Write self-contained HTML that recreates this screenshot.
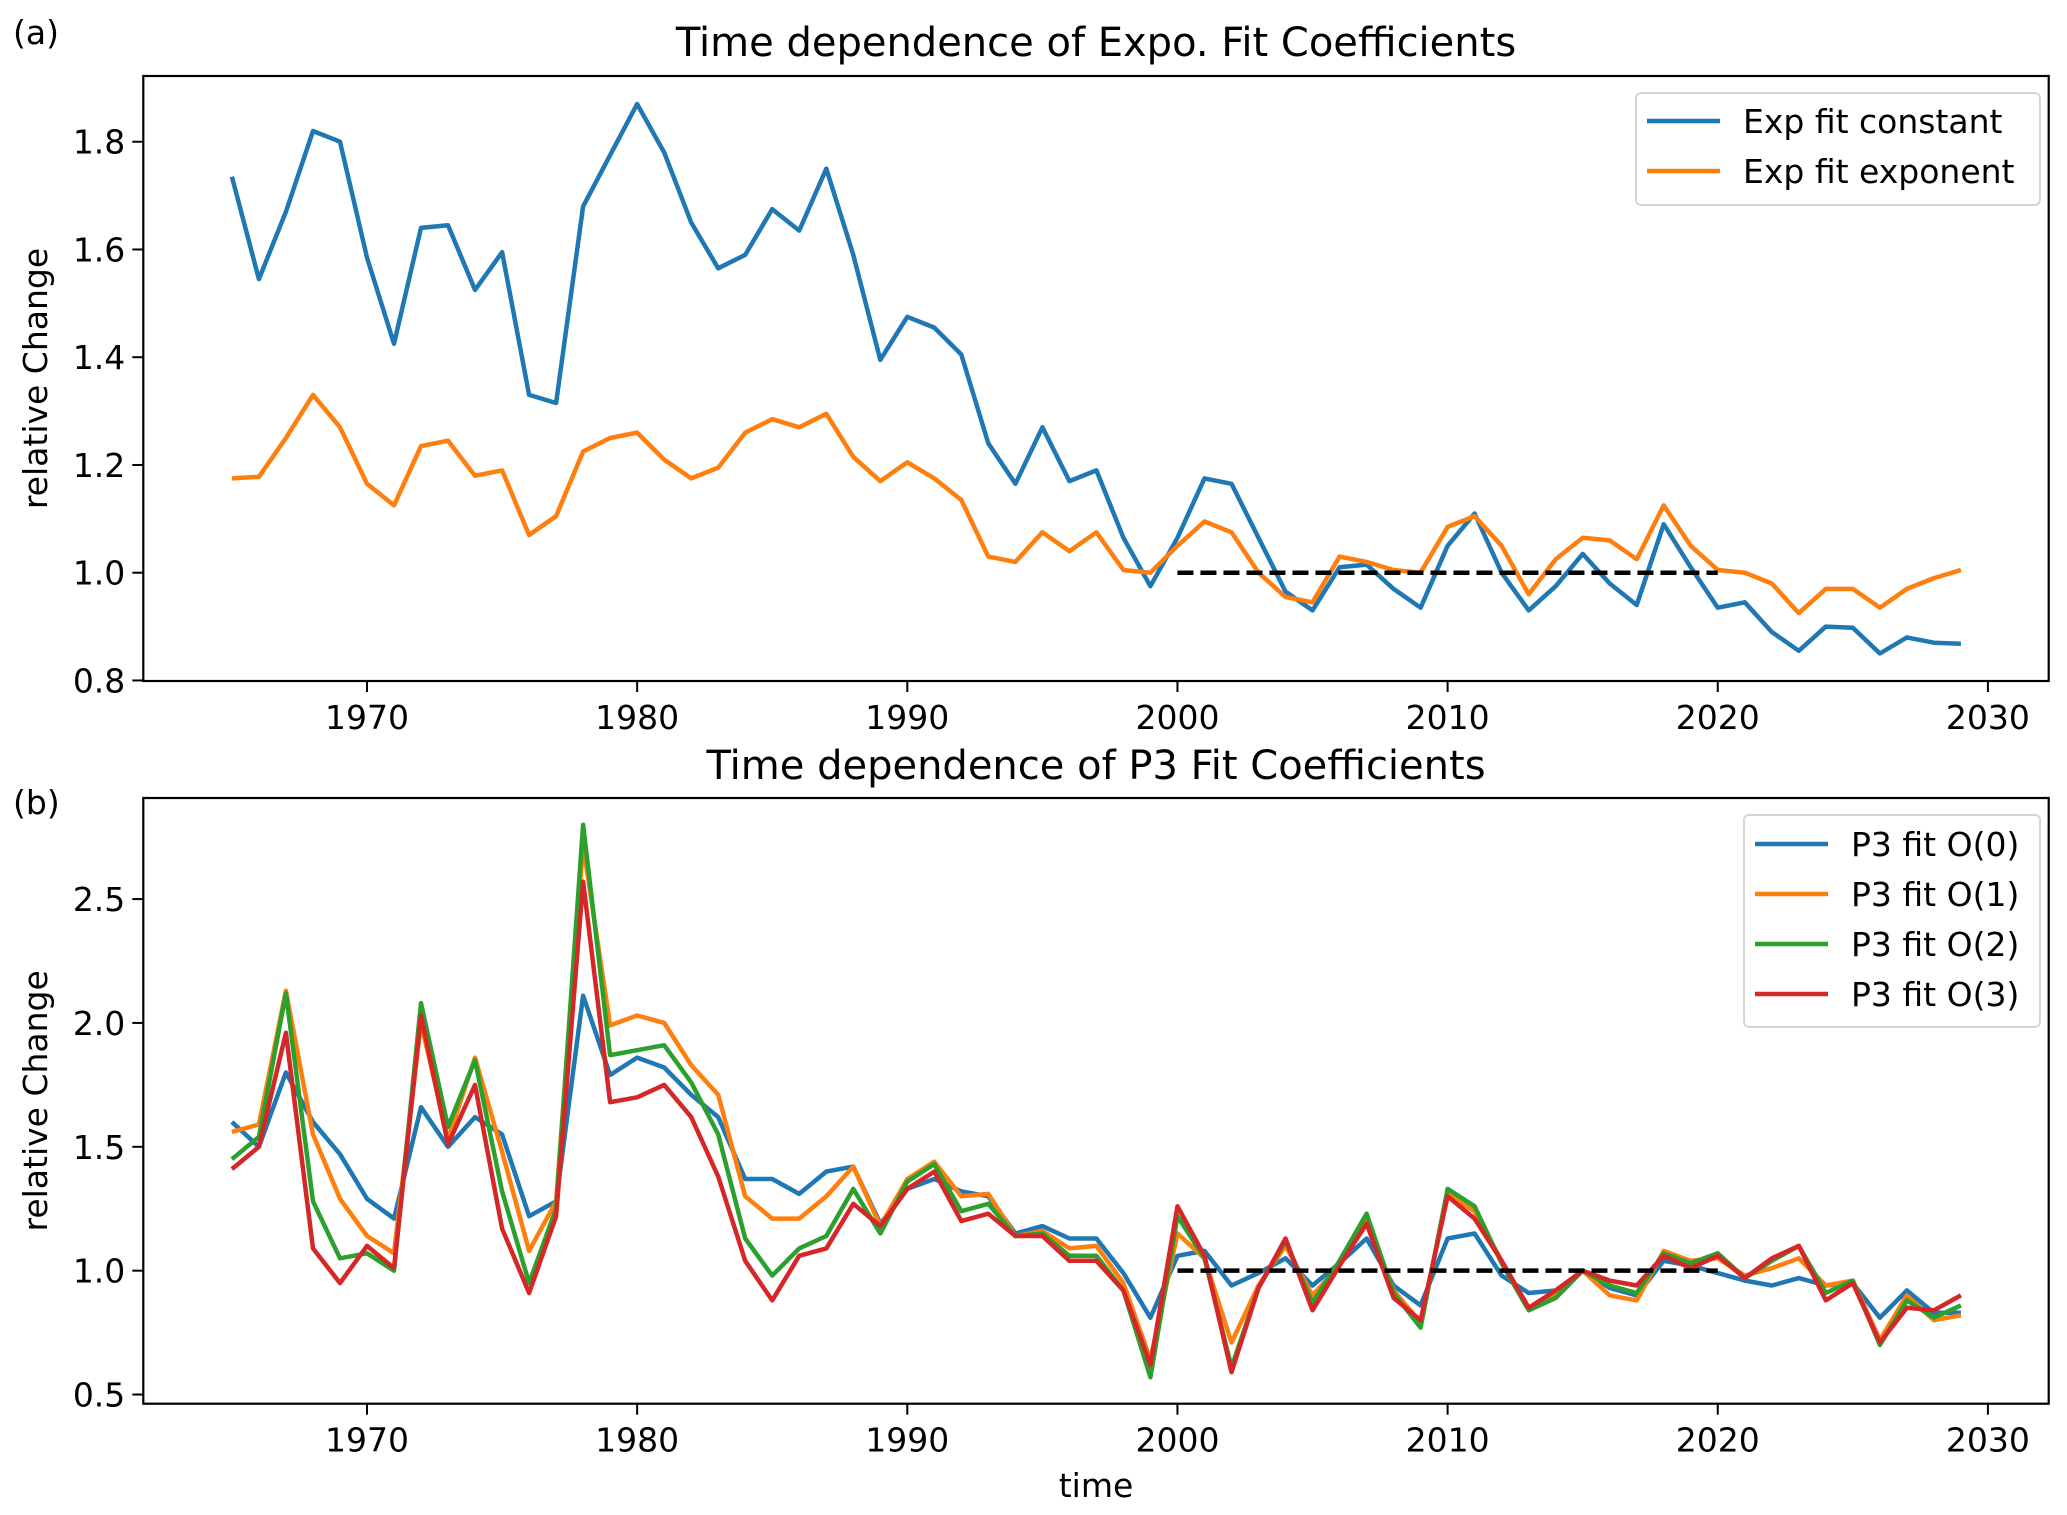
<!DOCTYPE html>
<html><head><meta charset="utf-8"><style>
html,body{margin:0;padding:0;background:#fff;width:2067px;height:1515px;overflow:hidden}
svg text{font-family:"DejaVu Sans","Liberation Sans",sans-serif;fill:#000}
</style></head><body>
<svg id="chart" width="2067" height="1515" viewBox="0 0 2067 1515" xmlns="http://www.w3.org/2000/svg"></svg>
<script>
const years = [];
for (let y = 1965; y <= 2029; y++) years.push(y);
const expConstant = [1.735,1.545,1.67,1.82,1.80,1.585,1.425,1.64,1.645,1.525,1.595,1.33,1.315,1.68,1.775,1.87,1.78,1.65,1.565,1.59,1.675,1.635,1.75,1.59,1.395,1.475,1.455,1.405,1.24,1.165,1.27,1.17,1.19,1.065,0.975,1.065,1.175,1.165,1.065,0.965,0.93,1.01,1.015,0.97,0.935,1.05,1.11,1.0,0.93,0.975,1.035,0.98,0.94,1.09,1.01,0.935,0.945,0.89,0.855,0.90,0.898,0.85,0.88,0.87,0.868];
const expExponent = [1.175,1.178,1.25,1.33,1.27,1.165,1.125,1.235,1.245,1.18,1.19,1.07,1.105,1.225,1.25,1.26,1.21,1.175,1.195,1.26,1.285,1.27,1.295,1.215,1.17,1.205,1.175,1.135,1.03,1.02,1.075,1.04,1.075,1.005,1.0,1.05,1.095,1.075,1.0,0.955,0.945,1.03,1.02,1.005,1.0,1.085,1.105,1.05,0.96,1.025,1.065,1.06,1.025,1.125,1.05,1.005,1.0,0.98,0.925,0.97,0.97,0.935,0.97,0.99,1.005];
const p3o0 = [1.60,1.50,1.80,1.60,1.47,1.29,1.21,1.66,1.50,1.62,1.55,1.22,1.28,2.11,1.79,1.86,1.82,1.71,1.62,1.37,1.37,1.31,1.40,1.42,1.19,1.33,1.37,1.32,1.30,1.15,1.18,1.13,1.13,0.99,0.81,1.06,1.08,0.94,0.99,1.05,0.94,1.03,1.13,0.94,0.86,1.13,1.15,0.98,0.91,0.92,1.00,0.93,0.90,1.04,1.02,0.99,0.96,0.94,0.97,0.94,0.95,0.81,0.92,0.83,0.83];
const p3o1 = [1.56,1.59,2.13,1.55,1.29,1.14,1.07,2.00,1.53,1.86,1.48,1.08,1.28,2.72,1.99,2.03,2.00,1.83,1.71,1.30,1.21,1.21,1.30,1.42,1.18,1.37,1.44,1.30,1.31,1.14,1.16,1.09,1.10,0.95,0.64,1.15,1.05,0.71,0.94,1.10,0.90,1.02,1.20,0.92,0.79,1.31,1.24,1.04,0.85,0.90,1.00,0.90,0.88,1.08,1.04,1.05,0.98,1.01,1.05,0.94,0.96,0.72,0.90,0.80,0.82];
const p3o2 = [1.45,1.54,2.12,1.28,1.05,1.07,1.00,2.08,1.58,1.85,1.32,0.95,1.25,2.80,1.87,1.89,1.91,1.76,1.55,1.13,0.98,1.09,1.14,1.33,1.15,1.36,1.43,1.24,1.27,1.14,1.15,1.06,1.06,0.92,0.57,1.22,1.05,0.61,0.93,1.12,0.87,1.04,1.23,0.91,0.77,1.33,1.26,1.03,0.84,0.89,1.00,0.94,0.91,1.07,1.03,1.07,0.97,1.04,1.10,0.91,0.96,0.70,0.88,0.81,0.86];
const p3o3 = [1.41,1.50,1.96,1.09,0.95,1.10,1.01,2.03,1.51,1.75,1.17,0.91,1.22,2.57,1.68,1.70,1.75,1.62,1.38,1.04,0.88,1.06,1.09,1.27,1.18,1.33,1.40,1.20,1.23,1.14,1.14,1.04,1.04,0.92,0.62,1.26,1.06,0.59,0.93,1.13,0.84,1.02,1.19,0.89,0.80,1.30,1.21,1.04,0.85,0.92,1.00,0.96,0.94,1.06,1.01,1.06,0.97,1.05,1.10,0.88,0.95,0.71,0.85,0.84,0.90];
const xTicks = [1970,1980,1990,2000,2010,2020,2030];
const yTicksA = [0.8,1.0,1.2,1.4,1.6,1.8];
const yTicksB = [0.5,1.0,1.5,2.0,2.5];
const refStart = 2000, refEnd = 2020, refValue = 1.0;

const NS = "http://www.w3.org/2000/svg";
const svg = document.getElementById('chart');
function mk(tag, attrs, parent) {
  const e = document.createElementNS(NS, tag);
  for (const k in attrs) e.setAttribute(k, attrs[k]);
  (parent || svg).appendChild(e);
  return e;
}
const X0 = 143.3, X1 = 2048.7, XMIN = 1961.72, XMAX = 2032.25;
const xs = v => X0 + (v - XMIN) / (XMAX - XMIN) * (X1 - X0);

function panel(cfg) {
  const g = mk('g', {});
  
  
  const ys = v => cfg.y1 - (v - cfg.vmin) / (cfg.vmax - cfg.vmin) * (cfg.y1 - cfg.y0);
  xTicks.forEach(t => {
    const x = xs(t);
    const l = mk('line', {x1: x, x2: x, y1: cfg.y1, y2: cfg.y1 + 11, stroke: '#000', 'stroke-width': 2}, g);
    
    
    const tx = mk('text', {x: x, y: cfg.y1 + 48, 'text-anchor': 'middle', 'font-size': 33}, g);
    
    
    tx.textContent = t;
  });
  cfg.yticks.forEach(t => {
    const y = ys(t);
    const l = mk('line', {x1: X0 - 11, x2: X0, y1: y, y2: y, stroke: '#000', 'stroke-width': 2}, g);
    
    
    const tx = mk('text', {x: X0 - 18, y: y + 12, 'text-anchor': 'end', 'font-size': 33}, g);
    
    
    tx.textContent = t.toFixed(1);
  });
  cfg.series.forEach(s => {
    const pts = years.map((yr, i) => xs(yr).toFixed(1) + ',' + ys(s.data[i]).toFixed(1)).join(' ');
    const p = mk('polyline', {points: pts, fill: 'none', stroke: s.color, 'stroke-width': 4.5, 'stroke-linejoin': 'round'}, g);
    
    
  });
  const d = mk('line', {x1: xs(refStart), x2: xs(refEnd), y1: ys(refValue), y2: ys(refValue), stroke: '#000', 'stroke-width': 4.5, 'stroke-dasharray': '16 7'}, g);
  
  
  const fr = mk('rect', {x: X0, y: cfg.y0, width: X1 - X0, height: cfg.y1 - cfg.y0, fill: 'none', stroke: '#000', 'stroke-width': 2.2}, g);
  
  
  const ttl = mk('text', {x: (X0 + X1) / 2, y: cfg.titleY, 'text-anchor': 'middle', 'font-size': 40}, g);
  
  
  ttl.textContent = cfg.title;
  const pl = mk('text', {x: 13, y: cfg.labelY, 'font-size': 33}, g);
  
  
  pl.textContent = cfg.label;
  const cy = (cfg.y0 + cfg.y1) / 2;
  const yl = mk('text', {x: 47, y: cy, 'text-anchor': 'middle', 'font-size': 33, transform: 'rotate(-90 47 ' + cy + ')'}, g);
  
  
  yl.textContent = 'relative Change';
  const L = cfg.legend;
  const lb = mk('rect', {x: L.x, y: L.y, width: L.w, height: L.h, rx: 5, fill: '#fff', 'fill-opacity': 0.8, stroke: '#d6d6d6', 'stroke-width': 2}, g);
  
  
  cfg.series.forEach((s, i) => {
    const y = L.firstY + i * L.step;
    const ll = mk('line', {x1: L.x + 11, x2: L.x + 84, y1: y, y2: y, stroke: s.color, 'stroke-width': 4.5}, g);
    
    
    const lt = mk('text', {x: L.x + 107, y: y + 12, 'font-size': 33}, g);
    
    
    lt.textContent = s.label;
  });
}
panel({name: 'panel-a', y0: 76, y1: 681, vmin: 0.799, vmax: 1.922, yticks: yTicksA,
  title: 'Time dependence of Expo. Fit Coefficients', titleY: 56, label: '(a)', labelY: 44,
  series: [{id: 'exp-constant-line', label: 'Exp fit constant', color: '#1f77b4', data: expConstant},
           {id: 'exp-exponent-line', label: 'Exp fit exponent', color: '#ff7f0e', data: expExponent}],
  legend: {x: 1636, y: 93, w: 404, h: 112, firstY: 121, step: 50}});
panel({name: 'panel-b', y0: 798, y1: 1403.7, vmin: 0.463, vmax: 2.908, yticks: yTicksB,
  title: 'Time dependence of P3 Fit Coefficients', titleY: 779, label: '(b)', labelY: 814,
  series: [{id: 'p3-o0-line', label: 'P3 fit O(0)', color: '#1f77b4', data: p3o0},
           {id: 'p3-o1-line', label: 'P3 fit O(1)', color: '#ff7f0e', data: p3o1},
           {id: 'p3-o2-line', label: 'P3 fit O(2)', color: '#2ca02c', data: p3o2},
           {id: 'p3-o3-line', label: 'P3 fit O(3)', color: '#d62728', data: p3o3}],
  legend: {x: 1744, y: 815, w: 296, h: 212, firstY: 844, step: 50}});
const xl = mk('text', {x: 1096, y: 1497, 'text-anchor': 'middle', 'font-size': 33});


xl.textContent = 'time';
</script>
</body></html>
